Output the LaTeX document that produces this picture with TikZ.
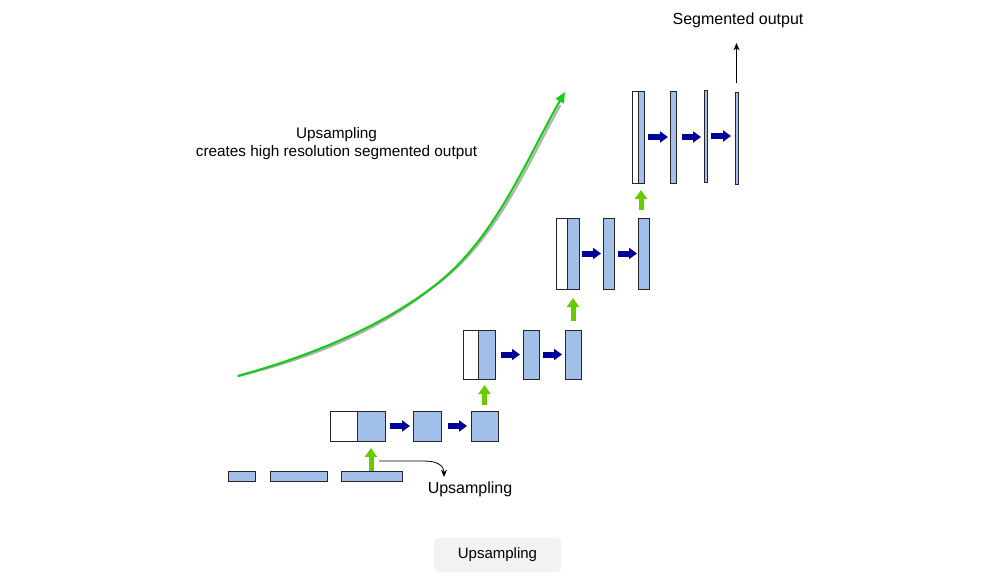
\documentclass[tikz,border=0pt]{standalone}
\usepackage{fontspec}
\setmainfont{Liberation Sans}
\usetikzlibrary{arrows.meta,fit,shadows}
\definecolor{boxblue}{HTML}{A2BFE9}
\definecolor{navyarrow}{HTML}{000099}
\definecolor{upgreen}{HTML}{66CC00}
\definecolor{curvegreen}{HTML}{1BC91B}
\definecolor{btngray}{HTML}{F2F2F2}
\begin{document}
\begin{tikzpicture}[x=0.75pt,y=-0.75pt,
  fmap/.style={draw=black!85, line width=0.75pt, inner sep=0pt, outer sep=0pt,
    drop shadow={shadow xshift=1pt, shadow yshift=-1pt, opacity=0.3}},
  bluemap/.style={fmap, fill=boxblue},
  whitemap/.style={fmap, fill=white},
  barrow/.style={navyarrow, line width=4.5pt, -{Triangle[length=6pt,width=8.25pt]}},
  garrow/.style={upgreen, line width=3.75pt, -{Triangle[length=6.75pt,width=9pt]}},
  karrow/.style={black, line width=0.6pt, -{Stealth[length=5.5pt,width=4.5pt]}},
  lbl/.style={font=\fontsize{12}{14.4}\selectfont, inner sep=0pt}]
\useasboundingbox (0,0) rectangle (983,576);
\fill[white] (0,0) rectangle (983,576);

% bottom row
\node[bluemap, fit={(228,471) (255,481)}] (r1) {};
\node[bluemap, fit={(270,471) (327,481)}] (r2) {};
\node[bluemap, fit={(341,471) (402,481)}] (r3) {};

% level 1
\node[whitemap, fit={(330,411) (357,441)}] (w1) {};
\node[bluemap, fit={(357,411) (385,441)}] (b1) {};
\node[bluemap, fit={(413,411) (441,441)}] (c1) {};
\node[bluemap, fit={(471,411) (498,441)}] (d1) {};

% level 2
\node[whitemap, fit={(463,330) (478,379)}] (w2) {};
\node[bluemap, fit={(478,330) (495,379)}] (b2) {};
\node[bluemap, fit={(523,330) (539,379)}] (c2) {};
\node[bluemap, fit={(565,330) (581,379)}] (d2) {};

% level 3
\node[whitemap, fit={(556,218) (567,289)}] (w3) {};
\node[bluemap, fit={(567,218) (579,289)}] (b3) {};
\node[bluemap, fit={(603,218) (614,289)}] (c3) {};
\node[bluemap, fit={(638,218) (649,289)}] (d3) {};

% level 4
\node[whitemap, fit={(632,91) (638,183)}] (w4) {};
\node[bluemap, fit={(638,91) (644,183)}] (b4) {};
\node[bluemap, fit={(670,91) (676,183)}] (c4) {};
\node[bluemap, fit={(704,90) (707,182)}] (d4) {};
\node[bluemap, fit={(735,92) (738,184)}] (e4) {};

% blue arrows
\draw[barrow, shorten <=3.75pt, shorten >=2.25pt] (b1.east) -- (b1.east -| c1.west);
\draw[barrow, shorten <=5.25pt, shorten >=3pt] (c1.east) -- (c1.east -| d1.west);
\draw[barrow, shorten <=4.5pt, shorten >=2.25pt] (b2.east) -- (b2.east -| c2.west);
\draw[barrow, shorten <=3pt, shorten >=2.25pt] (c2.east) -- (c2.east -| d2.west);
\draw[barrow, shorten <=2.25pt, shorten >=1.5pt] (b3.east) -- (b3.east -| c3.west);
\draw[barrow, shorten <=3pt, shorten >=0.75pt] (c3.east) -- (c3.east -| d3.west);
\draw[barrow, shorten <=3pt, shorten >=1.5pt] (b4.east) -- (b4.east -| c4.west);
\draw[barrow, shorten <=4.5pt, shorten >=2.25pt] (c4.east) -- (c4.east -| d4.west);
\draw[barrow, shorten <=3pt, shorten >=3pt] (d4.east) -- (d4.east -| e4.west);

% green up arrows
\draw[garrow, shorten >=5.25pt] (r3.north -| b1.south) -- (b1.south);
\draw[garrow, shorten <=4.5pt, shorten >=4.5pt] (d1.north) -- (d1.north |- b2.south);
\draw[garrow, shorten <=6.75pt, shorten >=6.75pt] (d2.north) -- (d2.north |- b3.south);
\draw[garrow, shorten <=6pt, shorten >=5.25pt] (d3.north -| b4.south) -- (b4.south);

% output arrow
\node[lbl] (segout) at (738,20) {Segmented output};
\draw[karrow, shorten <=6.75pt] (e4.north) -- (e4.north |- 0,43);

% small curved arrow
\coordinate (cstart) at (379,461);
\coordinate (cend) at (444,477);
\draw[karrow] (cstart) -- (424,461) .. controls (438,461) and (444,466) .. (cend);
\node[lbl] (uplbl) at (470,489) {Upsampling};

% big green curve with shadow
\coordinate (gstart) at (238,376);
\coordinate (gmid) at (433,287);
\coordinate (gend) at (565,92);
\draw[gray!60, line width=1.6pt, line cap=round, shift={(2,2)}]
  (gstart) .. controls (306,357) and (376,330) .. (gmid)
  .. controls (495,240) and (526,160) .. (558,104);
\draw[curvegreen, line width=1.6pt, -{Triangle[length=8pt,width=7pt]}]
  (gstart) .. controls (306,357) and (376,330) .. (gmid)
  .. controls (495,240) and (526,160) .. (gend);

% heading text
\node[lbl, align=center, font=\fontsize{11.5}{13.5}\selectfont] (heading) at (336.5,144) {Upsampling\\creates high resolution segmented output};

% bottom button
\node[fill=btngray, rounded corners=3pt, minimum width=95.25pt, minimum height=25.5pt, inner sep=0pt,
  font=\fontsize{11.25}{13.5}\selectfont] (btn) at (497.5,555) {Upsampling};
\end{tikzpicture}
\end{document}
